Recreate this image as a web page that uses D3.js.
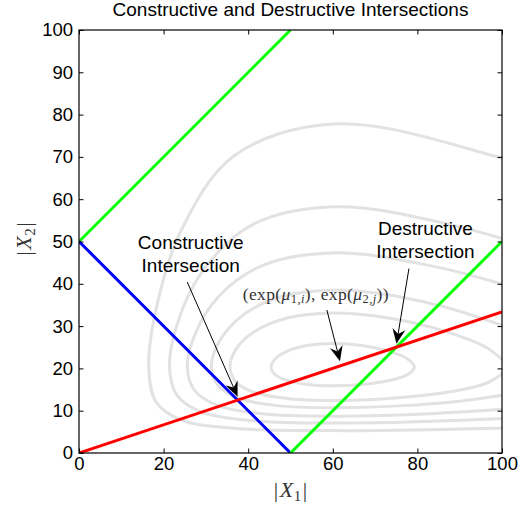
<!DOCTYPE html>
<html><head><meta charset="utf-8">
<script src="https://cdn.jsdelivr.net/npm/d3@7/dist/d3.min.js"></script>
<style>body{margin:0;background:#fff}</style>
</head><body><svg id="c" width="524" height="508"></svg>
<script>
// ---- data ----
const titleText = "Constructive and Destructive Intersections";
const xTicks = [0, 20, 40, 60, 80, 100];
const yTicks = [0, 10, 20, 30, 40, 50, 60, 70, 80, 90, 100];

// density contours (traced, data units [|X1|, |X2|])
const contour1 = [[218.0,20.3],[197.6,33.9],[149.4,52.5],[98.3,70.2],[60,77.8],[36.6,70.2],[24.1,52.5],[18.2,33.9],[16.5,20.3],[18.2,12.1],[24.1,7.84],[36.6,5.86],[60,5.29],[98.3,5.86],[149.4,7.84],[197.6,12.1]];
const contour2 = [[168.1,20.3],[155.4,30.4],[124.3,42.7],[89.0,53.7],[60,58.2],[40.5,53.7],[29.0,42.7],[23.2,30.4],[21.4,20.3],[23.2,13.6],[29.0,9.64],[40.5,7.67],[60,7.08],[89.0,7.67],[124.3,9.64],[155.4,13.6]];
const contour3 = [[140.4,20.3],[131.6,28.0],[109.4,36.9],[83.0,44.3],[60,47.3],[43.3,44.3],[32.9,36.9],[27.4,28.0],[25.6,20.3],[27.4,14.7],[32.9,11.2],[43.3,9.29],[60,8.71],[83.0,9.29],[109.4,11.2],[131.6,14.7]];
const contour4 = [[114.9,20.3],[109.4,25.9],[95.0,31.9],[76.9,36.7],[60,38.5],[46.8,36.7],[37.9,31.9],[32.9,25.9],[31.3,20.3],[32.9,15.9],[37.9,12.9],[46.8,11.2],[60,10.7],[76.9,11.2],[95.0,12.9],[109.4,15.9]];
const contour5 = [[100.9,20.3],[97.0,24.5],[86.7,28.7],[73.2,31.9],[60,33.1],[49.2,31.9],[41.5,28.7],[37.1,24.5],[35.7,20.3],[37.1,16.8],[41.5,14.3],[49.2,12.9],[60,12.4],[73.2,12.9],[86.7,14.3],[97.0,16.8]];
const contour6 = [[79.3,20.3],[77.6,22.3],[73.1,24.1],[66.8,25.4],[60,25.9],[53.9,25.4],[49.3,24.1],[46.4,22.3],[45.4,20.3],[46.4,18.5],[49.3,17.1],[53.9,16.2],[60,15.9],[66.8,16.2],[73.1,17.1],[77.6,18.5]];

const greenUpper = [[0,50],[50,100]];
const blueLine   = [[0,50],[50,0]];
const greenLower = [[50,0],[100,50]];
const redLine    = [[0,0],[100,33.33]];

const constructiveLabel = ["Constructive", "Intersection"];
const destructiveLabel  = ["Destructive", "Intersection"];
// arrows: [tail, head] in data units
const constructiveArrow = [[25.6,40.4],[37.5,13.3]];
const destructiveArrow  = [[78.0,43.6],[75.05,25.8]];
const expArrow          = [[58.6,33.8],[61.7,21.7]];

// ---- chart ----
const svg = d3.select("#c");
const x = d3.scaleLinear().domain([0,100]).range([79,502]);
const y = d3.scaleLinear().domain([0,100]).range([453,30]);
const sans = "'Liberation Sans', Arial, Helvetica, sans-serif";
const serif = "'Liberation Serif', 'DejaVu Serif', serif";

svg.append("defs").append("clipPath").attr("id","clip")
  .append("rect").attr("x",79).attr("y",30).attr("width",423).attr("height",423);

const plot = svg.append("g").attr("clip-path","url(#clip)");
const closed = d3.line().x(d=>x(d[0])).y(d=>y(d[1])).curve(d3.curveCatmullRomClosed.alpha(0.5));
plot.selectAll("path.ct").data([contour1,contour2,contour3,contour4,contour5,contour6]).join("path")
  .attr("class","ct").attr("d",closed)
  .attr("fill","none").attr("stroke","#e2e2e2").attr("stroke-width",3);

const line = d3.line().x(d=>x(d[0])).y(d=>y(d[1]));
const lines = [[greenUpper,"#00ff00"],[blueLine,"#0000ff"],[greenLower,"#00ff00"],[redLine,"#ff0000"]];
plot.selectAll("path.ln").data(lines).join("path")
  .attr("class","ln").attr("d",d=>line(d[0]))
  .attr("fill","none").attr("stroke",d=>d[1]).attr("stroke-width",3).attr("stroke-linecap","butt");

// axes
const fmt = d3.format("d");
const gx = svg.append("g").attr("transform","translate(0,453)")
  .call(d3.axisBottom(x).tickValues(xTicks).tickFormat(fmt).tickSizeInner(-4.5).tickSizeOuter(0).tickPadding(4));
const gy = svg.append("g").attr("transform","translate(79,0)")
  .call(d3.axisLeft(y).tickValues(yTicks).tickFormat(fmt).tickSizeInner(-4.5).tickSizeOuter(0).tickPadding(6));
const gt = svg.append("g").attr("transform","translate(0,30)")
  .call(d3.axisTop(x).tickValues(xTicks).tickFormat("").tickSizeInner(-4.5).tickSizeOuter(0));
const gr = svg.append("g").attr("transform","translate(502,0)")
  .call(d3.axisRight(y).tickValues(yTicks).tickFormat("").tickSizeInner(-4.5).tickSizeOuter(0));
[gx,gy,gt,gr].forEach(g=>{
  g.select(".domain").remove();
  g.selectAll("text").attr("font-family",sans).attr("font-size",18.5).attr("fill","#000");
  g.selectAll("line").attr("stroke","#000");
});
svg.append("rect").attr("x",79).attr("y",30).attr("width",423).attr("height",423)
  .attr("fill","none").attr("stroke","#000").attr("stroke-width",1.2);

// title
svg.append("text").attr("x",290.5).attr("y",15.5).attr("text-anchor","middle")
  .attr("font-family",sans).attr("font-size",19).attr("fill","#000").text(titleText);

// axis labels
function mathLabel(g, sub){
  g.append("tspan").text("|");
  g.append("tspan").attr("font-style","italic").attr("dx",1.5).text("X");
  g.append("tspan").attr("font-size",15).attr("dy",4).attr("dx",0.5).text(sub);
  g.append("tspan").attr("dy",-4).attr("dx",1.5).text("|");
}
const xl = svg.append("text").attr("x",290.5).attr("y",497).attr("text-anchor","middle")
  .attr("font-family",serif).attr("font-size",22).attr("fill","#333");
mathLabel(xl,"1");
const yl = svg.append("text").attr("transform","translate(31,239) rotate(-90)").attr("text-anchor","middle")
  .attr("font-family",serif).attr("font-size",22).attr("fill","#333");
mathLabel(yl,"2");

// annotations
function multiline(lbls, cx, yTop){
  svg.append("g").selectAll("text").data(lbls).join("text")
    .attr("x",x(cx)).attr("y",(d,i)=>y(yTop)+i*22.4).attr("text-anchor","middle")
    .attr("font-family",sans).attr("font-size",19).attr("fill","#000").text(d=>d);
}
multiline(constructiveLabel, 26.4, 48.2);
multiline(destructiveLabel, 81.9, 51.5);

const el = svg.append("text").attr("x",x(56.0)).attr("y",y(36.2)).attr("text-anchor","middle")
  .attr("font-family",serif).attr("font-size",17.5).attr("fill","#333").attr("letter-spacing",0.4);
el.append("tspan").text("(exp(");
el.append("tspan").attr("font-style","italic").text("μ");
el.append("tspan").attr("font-size",12.5).attr("dy",3.5).html("1,<tspan font-style='italic'>i</tspan>");
el.append("tspan").attr("dy",-3.5).text("), exp(");
el.append("tspan").attr("font-style","italic").text("μ");
el.append("tspan").attr("font-size",12.5).attr("dy",3.5).html("2,<tspan font-style='italic'>j</tspan>");
el.append("tspan").attr("dy",-3.5).text("))");

function arrow(a){
  const x0=x(a[0][0]), y0=y(a[0][1]), x1=x(a[1][0]), y1=y(a[1][1]);
  const ang=Math.atan2(y1-y0,x1-x0), L=15, Wd=6.5, N=10;
  const ux=Math.cos(ang), uy=Math.sin(ang), px=-uy, py=ux;
  const bx=x1-ux*L, by=y1-uy*L, nx=x1-ux*N, ny=y1-uy*N;
  svg.append("line").attr("x1",x0).attr("y1",y0).attr("x2",nx).attr("y2",ny)
    .attr("stroke","#000").attr("stroke-width",1);
  svg.append("path").attr("d",`M${x1},${y1}L${bx+px*Wd},${by+py*Wd}L${nx},${ny}L${bx-px*Wd},${by-py*Wd}Z`)
    .attr("fill","#000");
}
[constructiveArrow,destructiveArrow,expArrow].forEach(arrow);
</script></body></html>
